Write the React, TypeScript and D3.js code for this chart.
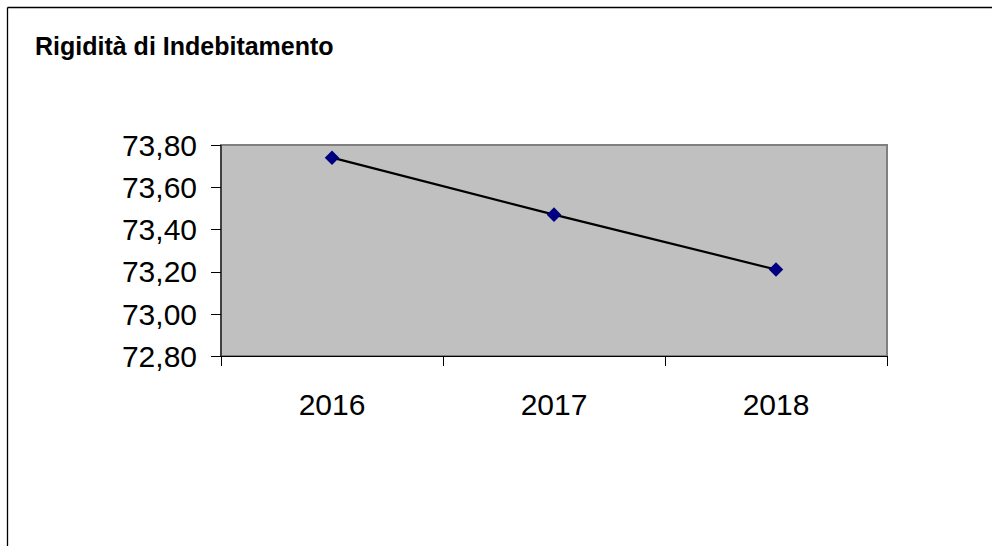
import React from "react";
import * as d3 from "d3";

const categories = ["2016", "2017", "2018"];
const values = [73.74, 73.47, 73.21];
const yTicks = [72.8, 73.0, 73.2, 73.4, 73.6, 73.8];
const title = "Rigidità di Indebitamento";

const W = 992;
const H = 546;
const plot = { left: 221, top: 145, right: 887, bottom: 356 };

export default function App() {
  const x = d3.scaleBand<string>().domain(categories).range([plot.left, plot.right]);
  const y = d3.scaleLinear().domain([72.8, 73.8]).range([plot.bottom, plot.top]);
  const fmt = (v: number) => v.toFixed(2).replace(".", ",");
  const line = d3
    .line<number>()
    .x((_, i) => (x(categories[i]) as number) + x.bandwidth() / 2)
    .y((d) => y(d));
  const diamond = d3.symbol().type(d3.symbolDiamond2).size(135);
  const xTickPos = [...categories.map((c) => x(c) as number), plot.right];
  const font = "'Liberation Sans', Arial, sans-serif";

  return (
    <svg
      width={W}
      height={H}
      style={{ position: "absolute", left: 0, top: 0, background: "#fff" }}
      fontFamily={font}
    >
      <rect x={0} y={0} width={W} height={H} fill="#fff" />
      {/* outer chart border */}
      <line x1={7.5} y1={7.5} x2={W} y2={7.5} stroke="#000" strokeWidth={1.3} />
      <line x1={7.5} y1={7.5} x2={7.5} y2={H} stroke="#000" strokeWidth={1.3} />

      <text x={35} y={54.5} fontSize={25} fontWeight="bold" fill="#000">
        {title}
      </text>

      {/* plot area */}
      <rect
        x={plot.left}
        y={plot.top}
        width={plot.right - plot.left}
        height={plot.bottom - plot.top}
        fill="#C0C0C0"
        stroke="#808080"
        strokeWidth={2}
      />

      {/* y axis */}
      <line x1={plot.left} y1={plot.top} x2={plot.left} y2={plot.bottom} stroke="#000" strokeWidth={1} />
      {yTicks.map((t) => (
        <g key={t}>
          <line x1={plot.left - 10} x2={plot.left} y1={Math.round(y(t)) + 0.5} y2={Math.round(y(t)) + 0.5} stroke="#000" strokeWidth={1} />
          <text x={197} y={y(t)} dy="0.36em" textAnchor="end" fontSize={30} fill="#000">
            {fmt(t)}
          </text>
        </g>
      ))}

      {/* x axis */}
      <line x1={plot.left} y1={plot.bottom + 0.5} x2={plot.right} y2={plot.bottom + 0.5} stroke="#000" strokeWidth={1} />
      {xTickPos.map((p, i) => (
        <line key={i} x1={Math.round(p) + 0.5} x2={Math.round(p) + 0.5} y1={plot.bottom} y2={plot.bottom + 10} stroke="#000" strokeWidth={1} />
      ))}
      {categories.map((c) => (
        <text
          key={c}
          x={(x(c) as number) + x.bandwidth() / 2}
          y={415}
          textAnchor="middle"
          fontSize={30}
          fill="#000"
        >
          {c}
        </text>
      ))}

      {/* series */}
      <path d={line(values) || ""} fill="none" stroke="#000" strokeWidth={2.2} />
      {values.map((v, i) => (
        <path
          key={i}
          d={diamond() || ""}
          transform={`translate(${(x(categories[i]) as number) + x.bandwidth() / 2},${y(v)})`}
          fill="#000080"
        />
      ))}
    </svg>
  );
}
